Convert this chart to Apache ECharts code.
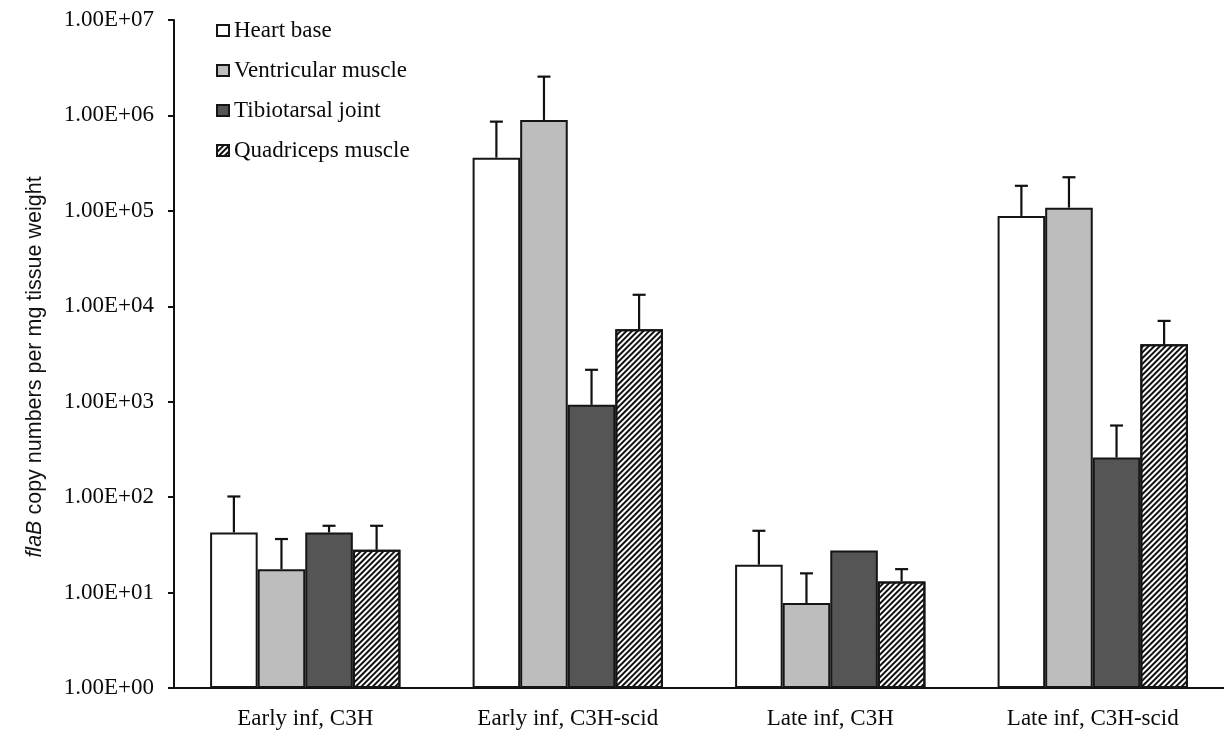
<!DOCTYPE html>
<html>
<head>
<meta charset="utf-8">
<script src="https://cdn.jsdelivr.net/npm/echarts@6/dist/echarts.min.js"></script>
<style>html,body{margin:0;padding:0;background:#fff}#c{width:1224px;height:732px}</style>
</head>
<body>
<div id="c"></div>
<script>
const categories = ['Early inf, C3H', 'Early inf, C3H-scid', 'Late inf, C3H', 'Late inf, C3H-scid'];
const seriesNames = ['Heart base', 'Ventricular muscle', 'Tibiotarsal joint', 'Quadriceps muscle'];
const heartBase = [42.6, 361000, 19.6, 88500];
const heartBaseUpper = [101.6, 861000, 44.4, 183000];
const ventricular = [17.6, 897000, 7.77, 108000];
const ventricularUpper = [36.4, 2550000, 15.9, 225000];
const tibiotarsal = [42.6, 927, 27.6, 260];
const tibiotarsalUpper = [50.1, 2160, null, 563];
const quadriceps = [28.1, 5760, 13.1, 4010];
const quadricepsUpper = [50.1, 13200, 17.6, 7030];
const yTickLabels = ['1.00E+00','1.00E+01','1.00E+02','1.00E+03','1.00E+04','1.00E+05','1.00E+06','1.00E+07'];

const values = [heartBase, ventricular, tibiotarsal, quadriceps];
const uppers = [heartBaseUpper, ventricularUpper, tibiotarsalUpper, quadricepsUpper];
const fills = ['#ffffff', '#bdbdbd', '#555555', '#ffffff'];
const GAP = 0.275;
const serif = '"Liberation Serif", "Times New Roman", serif';

const series = [];
values.forEach((v, k) => {
  const s = {
    name: seriesNames[k], type: 'bar', data: v, barGap: 0, barCategoryGap: (GAP*100) + '%',
    itemStyle: { color: fills[k], borderColor: '#151515', borderWidth: 2 },
    emphasis: { disabled: true }, z: 2
  };
  if (k === 3) {
    s.itemStyle.decal = { symbol: 'rect', symbolSize: 1, color: '#111', dashArrayX: [1, 0], dashArrayY: [1.6, 1.8], rotation: -Math.PI / 4 };
  }
  series.push(s);
});
values.forEach((v, k) => {
  const data = [];
  v.forEach((val, i) => { if (uppers[k][i] != null) data.push([i, uppers[k][i], val]); });
  series.push({
    type: 'custom', z: 3, silent: true, data: data, encode: { x: 0, y: 1 },
    renderItem: function (params, api) {
      const i = api.value(0);
      const base = api.coord([i, api.value(2)]);
      const top = api.coord([i, api.value(1)]);
      const band = api.coord([1, api.value(1)])[0] - api.coord([0, api.value(1)])[0];
      const bw = band * (1 - GAP) / 4;
      const cx = top[0] + (k - 1.5) * bw;
      const st = { stroke: '#111', lineWidth: 2.2 };
      return { type: 'group', children: [
        { type: 'line', shape: { x1: cx, y1: base[1], x2: cx, y2: top[1] }, style: st },
        { type: 'line', shape: { x1: cx - 6.5, y1: top[1], x2: cx + 6.5, y2: top[1] }, style: st }
      ]};
    }
  });
});

const chart = echarts.init(document.getElementById('c'), null, { renderer: 'canvas' });
chart.setOption({
  animation: false,
  backgroundColor: '#fff',
  grid: { left: 174, top: 20, bottom: 44, width: 1054 },
  legend: {
    data: seriesNames, orient: 'vertical', left: 211, top: 14, icon: 'rect',
    itemWidth: 12, itemHeight: 11, itemGap: 17,
    textStyle: { fontFamily: serif, fontSize: 23, color: '#0a0a0a' }
  },
  xAxis: {
    type: 'category', data: categories,
    axisLine: { lineStyle: { color: '#111', width: 2 } },
    axisTick: { length: 7, lineStyle: { color: '#111', width: 2 } },
    axisLabel: { fontFamily: serif, fontSize: 23, color: '#0a0a0a', margin: 19 }
  },
  yAxis: {
    type: 'log', logBase: 10, min: 1, max: 1e7,
    axisLine: { show: true, lineStyle: { color: '#111', width: 2 } },
    axisTick: { show: true, length: 6, lineStyle: { color: '#111', width: 2 } },
    splitLine: { show: false },
    axisLabel: { fontFamily: serif, fontSize: 23, color: '#0a0a0a', margin: 20,
      formatter: function (val) { return yTickLabels[Math.round(Math.log10(val))]; } },
    name: '{i|flaB} copy numbers per mg tissue weight',
    nameLocation: 'middle', nameRotate: 90, nameGap: 128,
    nameTextStyle: { fontFamily: '"Liberation Sans", Arial, sans-serif', fontSize: 21.5, color: '#111',
      padding: [0, 26, 0, 0],
      rich: { i: { fontStyle: 'italic', fontFamily: '"Liberation Sans", Arial, sans-serif', fontSize: 21.5, color: '#111' } } }
  },
  series: series
});
</script>
</body>
</html>
